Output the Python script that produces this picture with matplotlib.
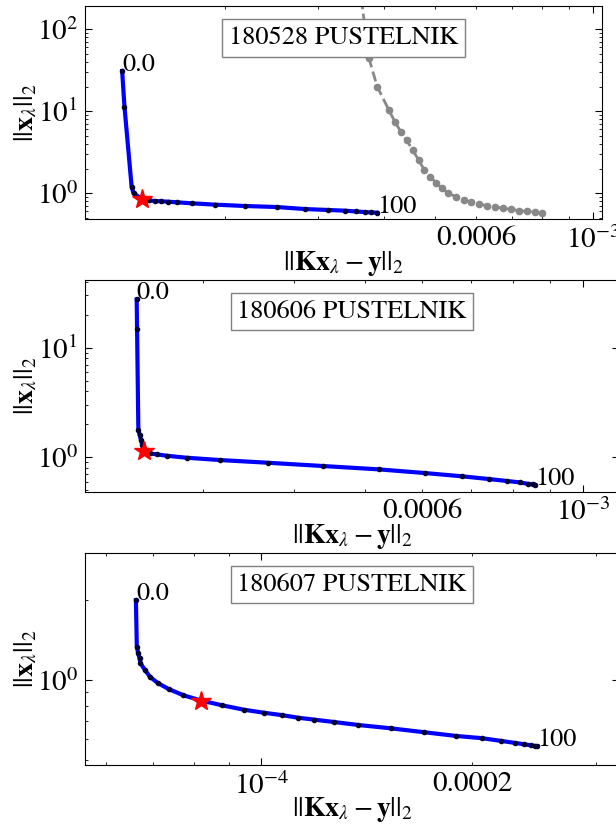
# L-curves for three PUSTELNIK days, log-log, with the chosen corner marked
import matplotlib
matplotlib.use('Agg')
import matplotlib.pyplot as plt
from matplotlib.ticker import LogLocator, FuncFormatter, NullFormatter

plt.rcParams['font.family'] = 'STIXGeneral'
plt.rcParams['mathtext.fontset'] = 'stix'
plt.rcParams['font.size'] = 19

titles = ['180528 PUSTELNIK', '180606 PUSTELNIK', '180607 PUSTELNIK']

# residual norm ||Kx - y|| and solution norm ||x|| along lambda
res0 = [1.273e-4, 1.286e-4, 1.327e-4, 1.338e-4, 1.39e-4, 1.432e-4, 1.470e-4, 1.508e-4,
        1.555e-4, 1.621e-4, 1.725e-4, 1.913e-4, 2.180e-4, 2.506e-4, 2.830e-4, 3.133e-4,
        3.376e-4, 3.543e-4, 3.691e-4, 3.788e-4, 3.886e-4]
sol0 = [31.0, 11.4, 1.2, 1.0, 0.845, 0.821, 0.805, 0.799, 0.79, 0.776, 0.755, 0.727,
        0.70, 0.68, 0.643, 0.626, 0.614, 0.60, 0.59, 0.585, 0.58]

res1 = [2.427e-4, 2.43e-4, 2.44e-4, 2.45e-4, 2.46e-4, 2.47e-4, 2.487e-4, 2.528e-4,
        2.586e-4, 2.672e-4, 2.843e-4, 3.159e-4, 3.68e-4, 4.39e-4, 5.23e-4, 6.06e-4,
        6.82e-4, 7.42e-4, 7.87e-4, 8.18e-4, 8.39e-4, 8.52e-4, 8.58e-4]
sol1 = [27.6, 14.8, 1.78, 1.6, 1.44, 1.3, 1.14, 1.088, 1.065, 1.034, 0.992, 0.945,
        0.893, 0.833, 0.777, 0.719, 0.671, 0.634, 0.608, 0.591, 0.574, 0.567, 0.562]

res2 = [6.62e-5, 6.64e-5, 6.67e-5, 6.70e-5, 6.72e-5, 6.82e-5, 6.93e-5, 7.11e-5, 7.37e-5,
        7.74e-5, 8.21e-5, 8.78e-5, 9.43e-5, 1.007e-4, 1.071e-4, 1.128e-4, 1.190e-4,
        1.268e-4, 1.375e-4, 1.529e-4, 1.707e-4, 1.894e-4, 2.065e-4, 2.198e-4, 2.301e-4,
        2.37e-4, 2.423e-4, 2.455e-4, 2.477e-4]
sol2 = [1.993, 1.332, 1.259, 1.205, 1.155, 1.090, 1.029, 0.975, 0.925, 0.876, 0.837,
        0.804, 0.774, 0.754, 0.738, 0.722, 0.710, 0.696, 0.678, 0.659, 0.637, 0.617,
        0.605, 0.591, 0.581, 0.574, 0.569, 0.566, 0.565]

# second curve on the first day
grayRes = [3.55e-4, 3.63e-4, 3.75e-4, 3.887e-4, 4.09e-4, 4.20e-4, 4.31e-4, 4.42e-4, 4.54e-4,
           4.66e-4, 4.78e-4, 4.90e-4, 5.03e-4, 5.16e-4, 5.29e-4, 5.48e-4, 5.68e-4,
           5.87e-4, 6.08e-4, 6.29e-4, 6.51e-4, 6.74e-4, 6.98e-4, 7.22e-4, 7.48e-4,
           7.74e-4, 8.01e-4]
graySol = [400.0, 224.0, 44.3, 20.0, 10.4, 7.47, 5.64, 4.47, 3.37, 2.55, 1.92, 1.595,
           1.346, 1.15, 1.02, 0.91, 0.828, 0.783, 0.74, 0.706, 0.687, 0.656, 0.638,
           0.614, 0.603, 0.592, 0.57]

# chosen corner of each curve
cornerRes = [1.39e-4, 2.487e-4, 8.21e-5]
cornerSol = [0.845, 1.14, 0.837]

startLabel = '0.0'
endLabel = '100'

# labelled minor ticks on the residual axis
minorLabels = [[6e-4], [6e-4], [2e-4]]

xLims = [(1.082e-4, 1.04e-3), (2.06e-4, 1.121e-3), (5.6e-5, 3.24e-4)]
yLims = [(0.486, 192.0), (0.486, 41.5), (0.48, 3.0)]

resList = [res0, res1, res2]
solList = [sol0, sol1, sol2]

W, H = 616, 825
boxes = [(85, 6, 602, 219), (85, 280, 619, 491.7), (85, 552.7, 619, 765)]


def minorText(v, pos, labelled):
    for m in labelled:
        if abs(v - m) < m * 1e-3:
            return '%.4f' % v
    return ''


fig = plt.figure(figsize=(W / 100, H / 100), dpi=100)

for i in range(3):
    l, t, r, b = boxes[i]
    ax = fig.add_axes([l / W, 1 - b / H, (r - l) / W, (b - t) / H])
    ax.set_xscale('log')
    ax.set_yscale('log')

    if i == 0:
        ax.plot(grayRes, graySol, '--', color='#888888', lw=2, marker='o', ms=4.5)

    x = resList[i]
    y = solList[i]
    ax.plot(x, y, 'b-', lw=3)
    ax.plot(x, y, '.', color='#000033', ms=6)
    ax.plot(cornerRes[i], cornerSol[i], '*', color='red', ms=15, mec='red')

    ax.text(x[0], y[0], startLabel, ha='left', va='baseline')
    ax.text(x[-1], y[-1], endLabel, ha='left', va='baseline')

    ax.text(0.5, 0.85, titles[i], transform=ax.transAxes, ha='center', va='center',
            bbox=dict(boxstyle='square,pad=0.25', facecolor='white', edgecolor='gray'))

    ax.set_xlim(*xLims[i])
    ax.set_ylim(*yLims[i])

    ax.xaxis.set_minor_locator(LogLocator(subs=range(2, 10)))
    ax.yaxis.set_minor_locator(LogLocator(subs=range(2, 10)))
    ax.xaxis.set_minor_formatter(FuncFormatter(
        lambda v, pos, labelled=minorLabels[i]: minorText(v, pos, labelled)))
    ax.yaxis.set_minor_formatter(NullFormatter())

    ax.tick_params(which='both', direction='in', top=True, right=True, pad=5,
                   labelsize=21)
    ax.tick_params(which='major', length=5)
    ax.tick_params(which='minor', length=2.5)

    ax.set_xlabel(r'$||\mathbf{Kx}_\lambda-\mathbf{y}||_2$', labelpad=-3, fontsize=20)
    ax.set_ylabel(r'$||\mathbf{x}_\lambda||_2$', labelpad=-2, fontsize=20)

fig.savefig('out.png', dpi=100)
